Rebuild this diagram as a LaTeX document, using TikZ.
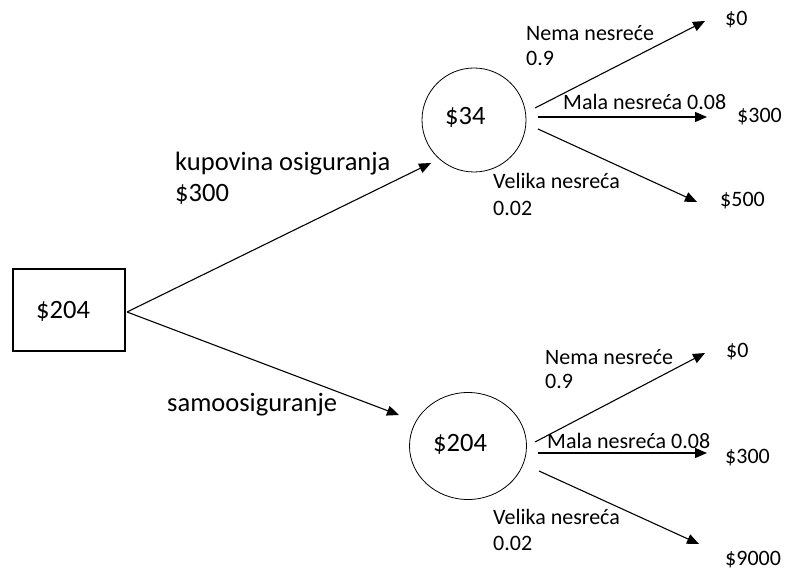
\documentclass[tikz,border=0pt]{standalone}
\usepackage{fontspec}
\setmainfont{Carlito}
\usetikzlibrary{arrows.meta,shapes.geometric}
\begin{document}
\begin{tikzpicture}[x=1pt,y=-1pt,
 big/.style={font=\fontsize{26.5}{30}\selectfont, inner sep=0pt, anchor=base west},
 small/.style={font=\fontsize{22}{25}\selectfont, inner sep=0pt, anchor=base west},
 branch/.style={line width=1.1pt, -{Triangle[length=12pt,width=10pt]}},
 circ/.style={circle, draw, line width=0.8pt, minimum size=104pt, inner sep=0pt},
 oval/.style={ellipse, draw, line width=0.8pt, minimum width=117pt, minimum height=107pt, inner sep=0pt},
 decbox/.style={rectangle, draw, line width=1.3pt, minimum width=112pt, minimum height=82pt, inner sep=0pt}
]
\useasboundingbox (0,0) rectangle (786,569);

% decision node
\node[decbox] (root) at (69,310) {};
\node[big] (rootv) at (36,318) {\$204};

% chance nodes
\node[circ] (c1) at (474,120) {};
\node[big] (c1v) at (445,125) {\$34};
\node[oval] (c2) at (468,446) {};
\node[big] (c2v) at (433,451) {\$204};

% decision branches
\coordinate (rs) at (127,312);
\coordinate (t1) at (431,163);
\coordinate (t2) at (399,415);
\draw[branch] (rs) -- (t1);
\draw[branch] (rs) -- (t2);
\node[big] (l1a) at (175,171) {kupovina osiguranja};
\node[big] (l1b) at (175,202) {\$300};
\node[big] (l2) at (167,411) {samoosiguranje};

% top chance branches
\coordinate (a1) at (535,108);
\coordinate (a2) at (538,117);
\coordinate (a3) at (538,129);
\coordinate (e1) at (705,21);
\coordinate (e2) at (707,117);
\coordinate (e3) at (697,202);
\draw[branch] (a1) -- (e1);
\draw[branch] (a2) -- (e2);
\draw[branch] (a3) -- (e3);
\node[small] (n1a) at (526,41) {Nema nesreće};
\node[small] (n1b) at (526,66) {0.9};
\node[small] (m1) at (563,110) {Mala nesreća 0.08};
\node[small] (v1a) at (493,189) {Velika nesreća};
\node[small] (v1b) at (493,215) {0.02};
\node[small] (o11) at (725,26) {\$0};
\node[small] (o12) at (737,123) {\$300};
\node[small] (o13) at (720,207) {\$500};

% bottom chance branches
\coordinate (b1) at (535,442);
\coordinate (b2) at (538,453);
\coordinate (b3) at (539,471);
\coordinate (f1) at (705,353);
\coordinate (f2) at (707,453);
\coordinate (f3) at (699,544);
\draw[branch] (b1) -- (f1);
\draw[branch] (b2) -- (f2);
\draw[branch] (b3) -- (f3);
\node[small] (n2a) at (545,364) {Nema nesreće};
\node[small] (n2b) at (545,388) {0.9};
\node[small] (m2) at (547,448) {Mala nesreća 0.08};
\node[small] (v2a) at (493,524) {Velika nesreća};
\node[small] (v2b) at (493,550) {0.02};
\node[small] (o21) at (726,357) {\$0};
\node[small] (o22) at (725,463) {\$300};
\node[small] (o23) at (725,565) {\$9000};
\end{tikzpicture}
\end{document}
